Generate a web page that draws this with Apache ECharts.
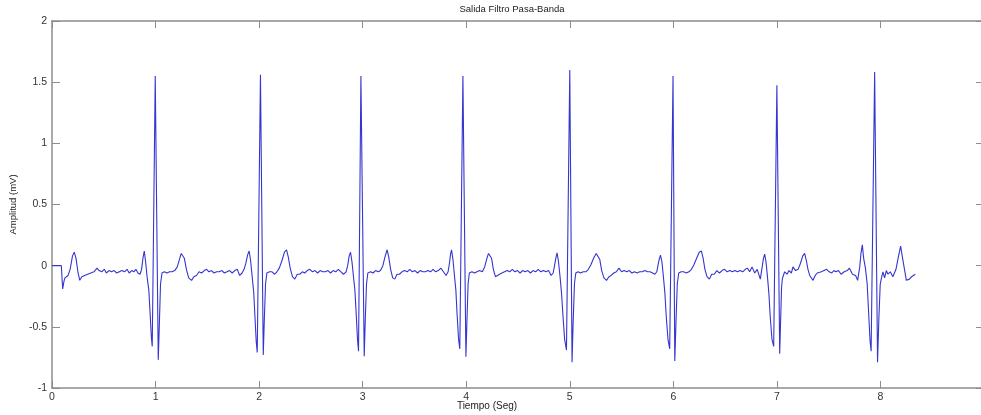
<!DOCTYPE html>
<html>
<head>
<meta charset="utf-8">
<script src="https://cdn.jsdelivr.net/npm/echarts@6/dist/echarts.min.js"></script>
<style>
  html, body { margin: 0; padding: 0; background: #fff; overflow: hidden; }
  #chart { width: 981px; height: 415px; }
</style>
</head>
<body>
<div id="chart"></div>
<script>
// Band-pass filtered ECG, [time (s), amplitude (mV)]
const leadIn = [
  [0.000, 0.00],[0.090, 0.00],[0.103,-0.19],[0.115,-0.13],[0.125,-0.10],[0.140,-0.11],[0.155,-0.08],
  [0.175,-0.03],[0.198, 0.08],[0.215, 0.11],[0.232, 0.06],[0.250,-0.05],[0.268,-0.12],[0.288,-0.09],
  [0.315,-0.08],[0.345,-0.07],[0.375,-0.06],[0.405,-0.05],[0.435,-0.02],[0.455,-0.04],[0.480,-0.05],
  [0.505,-0.03],[0.525,-0.06],[0.550,-0.04],[0.575,-0.05],[0.600,-0.04],[0.625,-0.06],[0.650,-0.05],
  [0.675,-0.04],[0.700,-0.05],[0.725,-0.03],[0.745,-0.06],[0.770,-0.04],[0.790,-0.05],[0.810,-0.03],
  [0.830,-0.06],[0.850,-0.07],[0.865,-0.03]
];
const beat1 = [
  [0.878, 0.06],[0.891, 0.12],[0.903, 0.04],[0.918,-0.09],[0.935,-0.20],[0.948,-0.40],[0.960,-0.59],
  [0.968,-0.66],[0.997, 1.55],[1.026,-0.77],[1.036,-0.50],[1.048,-0.15],[1.062,-0.06],[1.085,-0.05],
  [1.110,-0.06],[1.135,-0.05],[1.160,-0.05],[1.185,-0.04],[1.210,-0.01],[1.230, 0.05],[1.248, 0.10],
  [1.262, 0.11],[1.278, 0.06],[1.298,-0.03],[1.320,-0.10],[1.348,-0.12],[1.370,-0.09],[1.395,-0.08],
  [1.420,-0.05],[1.445,-0.06],[1.470,-0.04],[1.493,-0.03],[1.515,-0.05],[1.540,-0.04],[1.565,-0.06],
  [1.590,-0.05],[1.615,-0.05],[1.640,-0.04],[1.665,-0.06],[1.690,-0.05],[1.715,-0.04],[1.740,-0.06],
  [1.765,-0.04],[1.790,-0.03],[1.812,-0.08],[1.835,-0.06],[1.855,-0.03]
];
const beat2 = [
  [1.872, 0.02],[1.890, 0.09],[1.904, 0.12],[1.918, 0.04],[1.932,-0.08],[1.948,-0.22],[1.960,-0.42],
  [1.972,-0.62],[1.982,-0.71],[2.013, 1.56],[2.040,-0.73],[2.050,-0.45],[2.062,-0.15],[2.075,-0.06],
  [2.100,-0.05],[2.125,-0.05],[2.150,-0.07],[2.172,-0.05],[2.195,-0.02],[2.220, 0.04],[2.245, 0.11],
  [2.265, 0.13],[2.282, 0.07],[2.300,-0.02],[2.322,-0.09],[2.345,-0.11],[2.368,-0.07],[2.392,-0.07],
  [2.418,-0.05],[2.440,-0.06],[2.465,-0.04],[2.490,-0.03],[2.515,-0.05],[2.540,-0.04],[2.565,-0.06],
  [2.590,-0.04],[2.615,-0.05],[2.640,-0.05],[2.665,-0.04],[2.690,-0.06],[2.715,-0.04],[2.740,-0.05],
  [2.765,-0.03],[2.790,-0.05],[2.815,-0.07],[2.840,-0.05]
];
const beat3 = [
  [2.855, 0.00],[2.870, 0.08],[2.883, 0.11],[2.897, 0.03],[2.910,-0.08],[2.925,-0.20],[2.938,-0.40],
  [2.950,-0.60],[2.960,-0.70],[2.983, 1.55],[3.015,-0.74],[3.025,-0.45],[3.037,-0.15],[3.050,-0.06],
  [3.075,-0.05],[3.100,-0.06],[3.125,-0.04],[3.150,-0.05],[3.172,-0.04],[3.195, 0.00],[3.215, 0.07],
  [3.236, 0.13],[3.252, 0.07],[3.270,-0.03],[3.290,-0.10],[3.310,-0.11],[3.332,-0.07],[3.355,-0.07],
  [3.380,-0.05],[3.405,-0.04],[3.430,-0.05],[3.455,-0.03],[3.480,-0.05],[3.505,-0.04],[3.530,-0.06],
  [3.555,-0.04],[3.580,-0.05],[3.605,-0.05],[3.630,-0.04],[3.655,-0.05],[3.680,-0.03],[3.705,-0.05],
  [3.730,-0.04],[3.755,-0.02],[3.780,-0.05],[3.805,-0.08],[3.825,-0.05]
];
const beat4 = [
  [3.838, 0.02],[3.848, 0.09],[3.858, 0.13],[3.872, 0.05],[3.885,-0.07],[3.900,-0.20],[3.912,-0.40],
  [3.926,-0.60],[3.938,-0.68],[3.968, 1.55],[3.997,-0.745],[4.007,-0.45],[4.018,-0.15],[4.030,-0.06],
  [4.055,-0.05],[4.080,-0.06],[4.105,-0.05],[4.130,-0.04],[4.155,-0.05],[4.178,-0.01],[4.200, 0.06],
  [4.215, 0.10],[4.228, 0.11],[4.245, 0.06],[4.262,-0.03],[4.282,-0.09],[4.300,-0.10],[4.322,-0.07],
  [4.345,-0.06],[4.370,-0.05],[4.395,-0.04],[4.420,-0.05],[4.445,-0.03],[4.470,-0.05],[4.495,-0.04],
  [4.520,-0.06],[4.545,-0.04],[4.570,-0.05],[4.595,-0.04],[4.620,-0.06],[4.645,-0.04],[4.670,-0.05],
  [4.695,-0.03],[4.720,-0.05],[4.745,-0.04],[4.770,-0.05],[4.795,-0.04],[4.820,-0.08],[4.840,-0.06],
  [4.855, 0.01]
];
const beat5 = [
  [4.865, 0.06],[4.877, 0.105],[4.890, 0.04],[4.905,-0.08],[4.920,-0.22],[4.935,-0.42],[4.950,-0.60],
  [4.968,-0.69],[5.000, 1.60],[5.022,-0.79],[5.032,-0.48],[5.045,-0.15],[5.058,-0.06],[5.080,-0.05],
  [5.105,-0.06],[5.130,-0.05],[5.155,-0.05],[5.180,-0.03],[5.205, 0.01],[5.230, 0.06],[5.255, 0.10],
  [5.273, 0.11],[5.290, 0.05],[5.308,-0.04],[5.330,-0.10],[5.355,-0.12],[5.378,-0.09],[5.400,-0.08],
  [5.425,-0.06],[5.450,-0.05],[5.475,-0.02],[5.500,-0.05],[5.525,-0.04],[5.550,-0.05],[5.575,-0.04],
  [5.600,-0.06],[5.625,-0.05],[5.650,-0.06],[5.675,-0.05],[5.700,-0.05],[5.725,-0.04],[5.750,-0.05],
  [5.775,-0.05],[5.800,-0.06],[5.822,-0.07],[5.840,-0.05],[5.856, 0.02]
];
const beat6 = [
  [5.866, 0.06],[5.876, 0.086],[5.890, 0.03],[5.903,-0.08],[5.918,-0.22],[5.932,-0.42],[5.948,-0.60],
  [5.965,-0.68],[5.997, 1.55],[6.014,-0.78],[6.025,-0.48],[6.038,-0.15],[6.052,-0.06],[6.075,-0.05],
  [6.100,-0.05],[6.125,-0.06],[6.150,-0.05],[6.175,-0.03],[6.200, 0.01],[6.225, 0.06],[6.250, 0.11],
  [6.271, 0.12],[6.288, 0.06],[6.305,-0.03],[6.325,-0.09],[6.348,-0.11],[6.370,-0.07],[6.395,-0.07],
  [6.420,-0.04],[6.445,-0.06],[6.470,-0.04],[6.495,-0.03],[6.520,-0.05],[6.545,-0.04],[6.570,-0.05],
  [6.595,-0.04],[6.620,-0.05],[6.645,-0.04],[6.670,-0.05],[6.695,-0.03],[6.715,-0.02],[6.737,-0.05],
  [6.760,-0.01],[6.786,-0.06],[6.810,-0.03],[6.840,-0.11],[6.860, 0.00]
];
const beat7 = [
  [6.870, 0.06],[6.882, 0.094],[6.895, 0.03],[6.908,-0.08],[6.922,-0.22],[6.936,-0.42],[6.952,-0.60],
  [6.969,-0.66],[7.000, 1.475],[7.027,-0.72],[7.036,-0.45],[7.045,-0.18],[7.053,-0.105],[7.075,-0.05],
  [7.098,-0.07],[7.117,-0.04],[7.140,-0.06],[7.155,-0.01],[7.180,-0.04],[7.205,-0.03],[7.228, 0.02],
  [7.250, 0.08],[7.268, 0.10],[7.285, 0.04],[7.300,-0.03],[7.317,-0.08],[7.349,-0.12],[7.370,-0.08],
  [7.390,-0.06],[7.430,-0.05],[7.455,-0.04],[7.480,-0.03],[7.505,-0.05],[7.530,-0.06],[7.550,-0.04],
  [7.570,-0.05],[7.595,-0.04],[7.620,-0.07],[7.650,-0.05],[7.680,-0.04],[7.700,-0.02],[7.730,-0.07],
  [7.760,-0.08],[7.780,-0.12],[7.800,-0.01]
];
const beat8 = [
  [7.812, 0.10],[7.825, 0.17],[7.838, 0.06],[7.855,-0.02],[7.872,-0.15],[7.888,-0.42],[7.900,-0.62],
  [7.910,-0.70],[7.944, 1.583],[7.972,-0.79],[7.984,-0.45],[7.998,-0.15],[8.010,-0.10],[8.024,-0.05],
  [8.040,-0.10],[8.057,-0.04],[8.072,-0.07],[8.095,-0.05],[8.120,-0.09],[8.150,-0.03],[8.175, 0.08],
  [8.195, 0.16],[8.210, 0.08],[8.224, 0.01],[8.250,-0.12],[8.280,-0.11],[8.300,-0.09],[8.310,-0.10],
  [8.337,-0.07]
];

const timeTicks = [0, 1, 2, 3, 4, 5, 6, 7, 8, 9];
const ampTicks = [-1, -0.5, 0, 0.5, 1, 1.5, 2];

const signal = [].concat(leadIn, beat1, beat2, beat3, beat4, beat5, beat6, beat7, beat8);

const axisGray = '#8c8c8c';
const labelColor = '#333';
const fontFam = '"Liberation Sans", Arial, sans-serif';

function timeAxis(pos, showLabels) {
  return {
    type: 'value', position: pos,
    min: timeTicks[0], max: timeTicks[timeTicks.length - 1], interval: 1,
    axisLine: { show: true, onZero: false, lineStyle: { color: axisGray, width: 1.5 } },
    axisTick: { show: true, inside: true, length: 7, lineStyle: { color: axisGray, width: 1 } },
    axisLabel: { show: showLabels, margin: 4, fontSize: 10.5, color: labelColor, fontFamily: fontFam,
                 showMaxLabel: false },
    splitLine: { show: false }
  };
}
function ampAxis(pos, showLabels) {
  return {
    type: 'value', position: pos,
    min: ampTicks[0], max: ampTicks[ampTicks.length - 1], interval: 0.5,
    axisLine: { show: true, onZero: false, lineStyle: { color: axisGray, width: 1.5 } },
    axisTick: { show: true, inside: true, length: 8, lineStyle: { color: axisGray, width: 1 } },
    axisLabel: { show: showLabels, margin: 5, fontSize: 10.5, color: labelColor, fontFamily: fontFam },
    splitLine: { show: false }
  };
}

const yLeft = ampAxis('left', true);
yLeft.name = 'Amplitud (mV)';
yLeft.nameLocation = 'middle';
yLeft.nameGap = 30;
yLeft.nameRotate = 90;
yLeft.nameTextStyle = { fontSize: 9.5, color: '#222', fontFamily: fontFam };

const chart = echarts.init(document.getElementById('chart'), null, { renderer: 'canvas' });
chart.setOption({
  animation: false,
  backgroundColor: '#ffffff',
  // plot box runs past the right edge of the canvas, as in the cropped figure
  grid: { left: 52, top: 21, width: 932, height: 367, containLabel: false, outerBoundsMode: 'none' },
  xAxis: [timeAxis('bottom', true), timeAxis('top', false)],
  yAxis: [yLeft, ampAxis('right', false)],
  graphic: [
    { type: 'text', x: 512, y: 9,
      style: { text: 'Salida Filtro Pasa-Banda', align: 'center', verticalAlign: 'middle',
               font: '9.5px ' + fontFam, fill: '#222' } },
    { type: 'text', x: 487, y: 406,
      style: { text: 'Tiempo (Seg)', align: 'center', verticalAlign: 'middle',
               font: '10px ' + fontFam, fill: '#222' } }
  ],
  series: [{
    type: 'line',
    xAxisIndex: 0, yAxisIndex: 0,
    data: signal,
    showSymbol: false,
    smooth: false,
    sampling: null,
    lineStyle: { color: '#3535cf', width: 1.1 },
    clip: true
  }]
});
</script>
</body>
</html>
